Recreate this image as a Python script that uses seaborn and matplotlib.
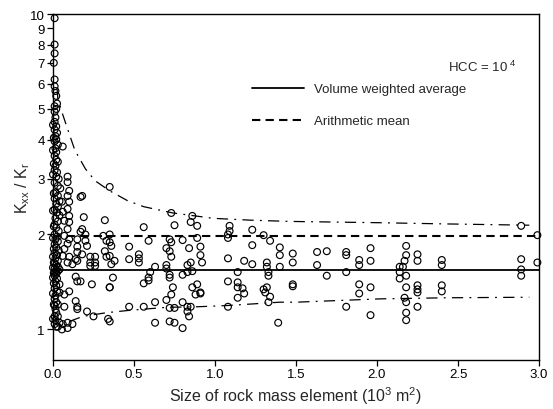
import matplotlib
matplotlib.use("Agg")
import matplotlib.pyplot as plt
import seaborn as sns
import pandas as pd
from matplotlib.ticker import FixedLocator, NullLocator, FixedFormatter
from matplotlib.lines import Line2D

# ---------------- data ----------------
col_x = [0.01,0.01,0.01,0.005,0.01,0.01,0.015,0.02,0.025,0.01,0.02,0.01,
         0.015,0.01,0.02,0.01,0.025,0.015,0.02,0.01,0.03,0.015,0.02,0.01,
         0.02,0.03,0.015,0.01,0.025,0.02,0.035,0.01,0.03,0.045,0.015,0.03,
         0.01,0.04,0.02,0.03,0.01,0.025,0.04,0.015,0.03,0.01,0.02,0.035,
         0.01,0.025,0.015,0.03,0.01,0.02,0.035,0.01,0.025,0.015,0.03,0.01,
         0.02,0.03,0.01,0.04,0.02,0.03,0.01,0.02,0.01,0.025,0.015,0.02,
         0.01,0.025,0.015,0.01,0.02,0.01,0.015,0.02,0.01,0.015,0.01,0.02]
col_y = [9.7,8.0,7.5,7.0,6.2,5.9,5.7,5.5,5.2,5.1,5.0,4.9,
         4.7,4.55,4.4,4.3,4.2,4.1,4.0,3.95,3.85,3.75,3.65,3.55,
         3.45,3.4,3.3,3.2,3.15,3.05,3.0,2.92,2.85,2.8,2.72,2.65,
         2.6,2.55,2.5,2.45,2.4,2.35,2.3,2.25,2.2,2.15,2.1,2.05,
         2.0,1.97,1.93,1.9,1.86,1.82,1.78,1.75,1.72,1.68,1.65,1.62,
         1.6,1.58,1.56,1.55,1.54,1.53,1.52,1.5,1.48,1.45,1.42,1.38,
         1.35,1.32,1.28,1.25,1.22,1.19,1.16,1.13,1.1,1.07,1.04,1.02]
col2_x = [0.0,0.005,0.0,0.005,0.0,0.005,0.0,0.005,0.0,0.005,
          0.0,0.005,0.0,0.005,0.0,0.005,0.0,0.005,0.0]
col2_y = [4.45,4.05,3.7,3.35,3.1,2.7,2.38,2.12,1.95,1.8,
          1.7,1.63,1.57,1.51,1.46,1.4,1.3,1.2,1.08]

a_x = [0.09,0.09,0.10,0.17,0.09,0.055,0.10,0.09,0.06,0.10,
       0.19,0.32,0.07,0.10,0.09,0.18,0.17,0.20,0.31,0.07,
       0.10,0.15,0.20,0.33,0.09,0.15,0.21,0.07,0.32,0.15,
       0.18,0.06,0.10,0.23,0.26,0.33,0.14,0.15,0.09,0.23,
       0.26,0.12,0.23,0.26,0.36,0.14,0.15,0.17,0.24,0.35,
       0.04,0.04,0.07,0.10,0.03,0.07,0.14,0.15,0.15,0.21,
       0.25,0.34,0.03,0.04,0.06,0.09,0.12,0.09,0.03,0.055,
       0.18,0.06]
a_y = [3.05,2.93,2.75,2.63,2.65,2.54,2.54,2.41,2.36,2.29,
       2.27,2.22,2.21,2.19,2.08,2.08,2.04,2.00,1.98,1.98,
       1.93,1.93,1.91,1.91,1.87,1.83,1.84,1.80,1.77,1.76,
       1.73,1.71,1.70,1.70,1.70,1.70,1.67,1.65,1.63,1.63,
       1.63,1.61,1.59,1.59,1.61,1.47,1.42,1.42,1.39,1.36,
       1.39,1.31,1.29,1.32,1.20,1.18,1.23,1.18,1.16,1.14,
       1.10,1.08,1.10,1.05,1.04,1.05,1.04,1.01,1.02,1.00,
       2.65,3.80]

b_x = [0.35,0.73,0.86,0.85,0.89,0.56,0.75,0.35,0.59,0.72,
       0.80,0.89,0.73,0.35,0.36,0.47,0.70,0.72,0.84,0.91,
       0.35,0.38,0.53,0.53,0.53,0.47,0.73,0.91,0.92,0.85,
       0.83,0.70,0.63,0.60,0.70,0.86,0.83,0.80,0.59,0.37,
       0.72,0.72,0.59,0.56,0.74,0.89,0.86,0.91,0.35,0.73,
       0.88,0.63,0.70,0.80,0.83,0.85,0.72,0.75,0.47,0.56,
       0.83,0.84,0.35,0.63,0.72,0.75,0.80,0.91]
b_y = [2.83,2.34,2.29,2.19,2.13,2.11,2.14,2.00,1.91,1.93,
       1.92,1.95,1.89,1.89,1.84,1.83,1.81,1.77,1.81,1.83,
       1.71,1.65,1.73,1.68,1.63,1.67,1.70,1.72,1.63,1.63,
       1.60,1.60,1.58,1.52,1.56,1.53,1.52,1.49,1.46,1.46,
       1.49,1.46,1.43,1.40,1.36,1.39,1.36,1.31,1.36,1.29,
       1.29,1.22,1.24,1.22,1.18,1.18,1.17,1.17,1.18,1.18,
       1.14,1.10,1.06,1.05,1.06,1.05,1.01,1.30]

c_x = [1.09,1.09,1.08,1.08,1.23,1.30,1.34,1.23,1.40,1.40,
       1.48,1.48,1.63,1.63,1.08,1.18,1.23,1.32,1.32,1.40,
       1.33,1.14,1.33,1.08,1.14,1.14,1.17,1.18,1.30,1.32,
       1.31,1.34,1.33,1.48,1.48,1.14,1.08,1.39]
c_y = [2.13,2.05,2.00,1.95,2.07,1.99,1.91,1.85,1.82,1.72,
       1.74,1.63,1.76,1.60,1.68,1.65,1.61,1.63,1.58,1.58,
       1.52,1.52,1.48,1.42,1.41,1.36,1.35,1.30,1.34,1.36,
       1.31,1.27,1.22,1.39,1.37,1.26,1.18,1.05]

d_x = [2.89,2.99,1.69,1.81,1.81,1.96,1.89,1.89,1.96,2.18,
       2.18,2.17,2.25,2.25,2.40,2.40,2.14,2.16,2.14,2.18,
       2.14,1.69,1.81,2.89,2.89,2.89,2.99,1.89,1.89,1.96,
       2.18,2.25,2.25,2.25,2.40,2.40,2.17,2.18,2.25,1.81,
       1.96,2.18,2.18]
d_y = [2.13,1.99,1.77,1.76,1.72,1.81,1.66,1.60,1.65,1.84,
       1.72,1.65,1.73,1.65,1.66,1.60,1.58,1.58,1.52,1.48,
       1.45,1.48,1.52,1.67,1.55,1.48,1.63,1.39,1.30,1.36,
       1.36,1.38,1.34,1.31,1.38,1.32,1.26,1.22,1.18,1.18,
       1.11,1.13,1.07]

upper_x = [0.025,0.03,0.06,0.105,0.135,0.20,0.26,0.35,0.46,0.56,0.74,0.99,1.22,1.46,2.00,2.43,2.94]
upper_y = [5.80,5.40,4.80,4.10,3.70,3.23,2.96,2.75,2.56,2.45,2.34,2.25,2.22,2.20,2.18,2.16,2.14]
lower_x = [0.10,0.185,0.33,0.475,0.70,0.89,1.07,1.40,1.50,2.02,2.43,2.94]
lower_y = [1.06,1.10,1.13,1.15,1.175,1.18,1.19,1.22,1.22,1.25,1.26,1.265]

line_x = [0.0, 3.0]
vol_weighted = 1.54
arith_mean = 1.985

y_ticks = [1, 2, 3, 4, 5, 6, 7, 8, 9, 10]
x_ticks = [0.0, 0.5, 1.0, 1.5, 2.0, 2.5, 3.0]

# ---------------- plot ----------------
sns.set_theme(style="ticks")
plt.rcParams["font.family"] = ["Liberation Sans", "DejaVu Sans"]
plt.rcParams["mathtext.fontset"] = "custom"
plt.rcParams["mathtext.rm"] = "Liberation Sans"
plt.rcParams["mathtext.it"] = "Liberation Sans"

pts = pd.DataFrame({
    "x": col_x + col2_x + a_x + b_x + c_x + d_x,
    "y": col_y + col2_y + a_y + b_y + c_y + d_y,
})

fig = plt.figure(figsize=(5.53, 4.10), dpi=100)
ax = fig.add_axes([53/553, 1-361/410, (539-53)/553, (361-15)/410])
ax.set_yscale("log")

sns.scatterplot(data=pts, x="x", y="y", ax=ax, marker="o", s=24,
                facecolor="none", edgecolor="black", linewidth=0.85,
                clip_on=False, zorder=3)

sns.lineplot(x=line_x, y=[vol_weighted]*2, ax=ax, color="black", lw=1.3)
sns.lineplot(x=line_x, y=[arith_mean]*2, ax=ax, color="black", lw=1.5,
             linestyle=(0, (4, 2.5)))
sns.lineplot(x=upper_x, y=upper_y, ax=ax, color="black", lw=0.9,
             linestyle=(0, (9, 5, 1.5, 5)), sort=False)
sns.lineplot(x=lower_x, y=lower_y, ax=ax, color="black", lw=0.9,
             linestyle=(0, (9, 5, 1.5, 5)), sort=False)

ax.set_xlim(0, 3.0)
ax.set_ylim(0.8, 10)
ax.yaxis.set_major_locator(FixedLocator(y_ticks))
ax.yaxis.set_major_formatter(FixedFormatter([str(t) for t in y_ticks]))
ax.yaxis.set_minor_locator(NullLocator())
ax.set_xticks(x_ticks)
ax.set_xticklabels([f"{t:.1f}" for t in x_ticks])
ax.tick_params(axis="both", direction="out", length=4, width=0.9,
               labelsize=9.5, colors="black", pad=2)
for s in ax.spines.values():
    s.set_visible(True)
    s.set_linewidth(1.0)
    s.set_color("black")

ax.set_xlabel("Size of rock mass element (10$^3$ m$^2$)", fontsize=11.5, labelpad=3)
ax.set_ylabel("K$_{xx}$ / K$_r$", fontsize=11.5, labelpad=0)
ax.yaxis.set_label_coords(-0.044, 0.5)

ax.text(0.813, 0.85, "HCC = 10$^{\\ 4}$", transform=ax.transAxes,
        fontsize=9.5, va="center", ha="left")

handles = [Line2D([0], [0], color="black", lw=1.3),
           Line2D([0], [0], color="black", lw=1.5, linestyle=(0, (4, 2.5)))]
ax.legend(handles, ["Volume weighted average", "Arithmetic mean"],
          loc="upper left", bbox_to_anchor=(0.41, 0.80), frameon=False,
          handlelength=3.9, handletextpad=0.8, labelspacing=1.5,
          fontsize=9.5, borderpad=0, borderaxespad=0)

fig.savefig("out.png", dpi=100)
